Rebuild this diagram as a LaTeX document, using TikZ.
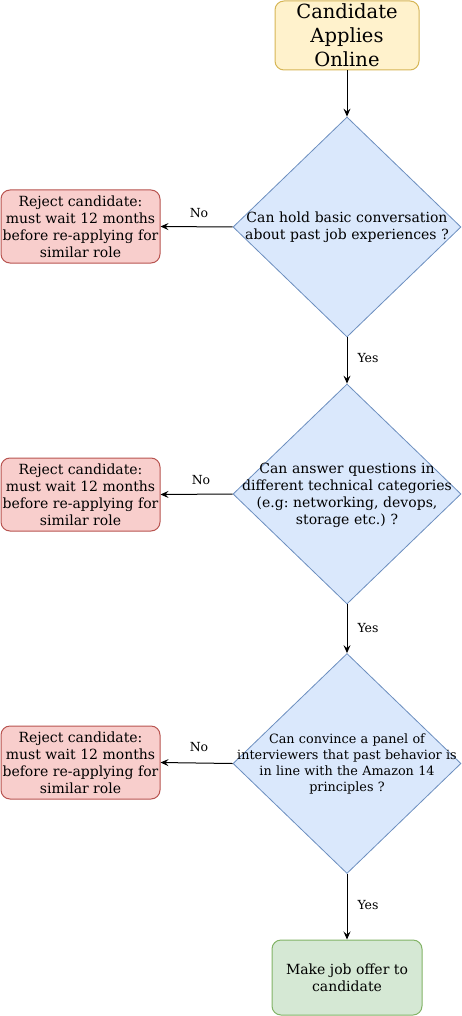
\documentclass[tikz,border=0pt]{standalone}
\usepackage{fontspec}
\setmainfont{DejaVu Serif}
\usetikzlibrary{shapes.geometric,arrows.meta}
\frenchspacing
\definecolor{ylwfill}{HTML}{FFF2CC}
\definecolor{ylwdraw}{HTML}{D6B656}
\definecolor{bluefill}{HTML}{DAE8FC}
\definecolor{bluedraw}{HTML}{6C8EBF}
\definecolor{redfill}{HTML}{F8CECC}
\definecolor{reddraw}{HTML}{B85450}
\definecolor{grnfill}{HTML}{D5E8D4}
\definecolor{grndraw}{HTML}{82B366}
\tikzset{
  body/.style={font=\fontsize{14}{17}\selectfont\frenchspacing, align=center, text=black},
  startbox/.style={draw=ylwdraw, fill=ylwfill, rounded corners=9pt, line width=1pt,
    minimum width=144pt, minimum height=69pt, inner sep=0pt, align=center,
    font=\fontsize{19.5}{24}\selectfont},
  rejbox/.style={body, draw=reddraw, fill=redfill, rounded corners=9pt, line width=1pt,
    minimum width=159pt, minimum height=73pt, inner sep=0pt},
  offerbox/.style={body, draw=grndraw, fill=grnfill, rounded corners=9pt, line width=1pt,
    minimum width=150pt, minimum height=75pt, inner sep=0pt},
  decide/.style={diamond, draw=bluedraw, fill=bluefill, line width=0.8pt,
    minimum width=228pt, minimum height=220pt, inner sep=0pt},
  dtext/.style={body, text width=240pt},
  smalldtext/.style={dtext, font=\fontsize{12.8}{16}\selectfont\frenchspacing},
  conn/.style={-{Stealth[length=8pt,width=7pt,inset=3pt]}, line width=1pt, black},
  elabel/.style={font=\fontsize{12.5}{15}\selectfont, text=black, inner sep=0pt},
}
\begin{document}
\begin{tikzpicture}[x=1pt,y=-1pt]
\useasboundingbox (0,0) rectangle (462,1016);
\node[startbox] (start) at (347,35.5) {Candidate\\Applies\\Online};

\node[decide] (d1) at (347,227) {};
\node[dtext] (t1) at (347,227.5) {Can hold basic conversation\\about past job experiences ?};
\node[rejbox] (r1) at (80.5,226.5) {Reject candidate:\\must wait 12 months\\before re-applying for\\similar role};

\node[decide] (d2) at (347,494) {};
\node[dtext] (t2) at (347,495.5) {Can answer questions in\\different technical categories\\(e.g: networking, devops,\\storage etc.) ?};
\node[rejbox] (r2) at (80.5,494.5) {Reject candidate:\\must wait 12 months\\before re-applying for\\similar role};

\node[decide] (d3) at (347,763.5) {};
\node[smalldtext] (t3) at (347,764) {Can convince a panel of\\interviewers that past behavior is\\in line with the Amazon 14\\principles ?};
\node[rejbox] (r3) at (80.5,762.5) {Reject candidate:\\must wait 12 months\\before re-applying for\\similar role};

\node[offerbox] (offer) at (347,977.5) {Make job offer to\\candidate};

\draw[conn] (start.south) -- (d1.north);
\draw[conn] (d1.west) -- (r1.east);
\draw[conn] (d1.south) -- (d2.north);
\draw[conn] (d2.west) -- (r2.east);
\draw[conn] (d2.south) -- (d3.north);
\draw[conn] (d3.west) -- (r3.east);
\draw[conn] (d3.south) -- (offer.north);

\node[elabel] (no1) at (199,213) {No};
\node[elabel] (no2) at (201,480) {No};
\node[elabel] (no3) at (199,747) {No};
\node[elabel] (yes1) at (368,358) {Yes};
\node[elabel] (yes2) at (368,628) {Yes};
\node[elabel] (yes3) at (368,905) {Yes};
\end{tikzpicture}
\end{document}
